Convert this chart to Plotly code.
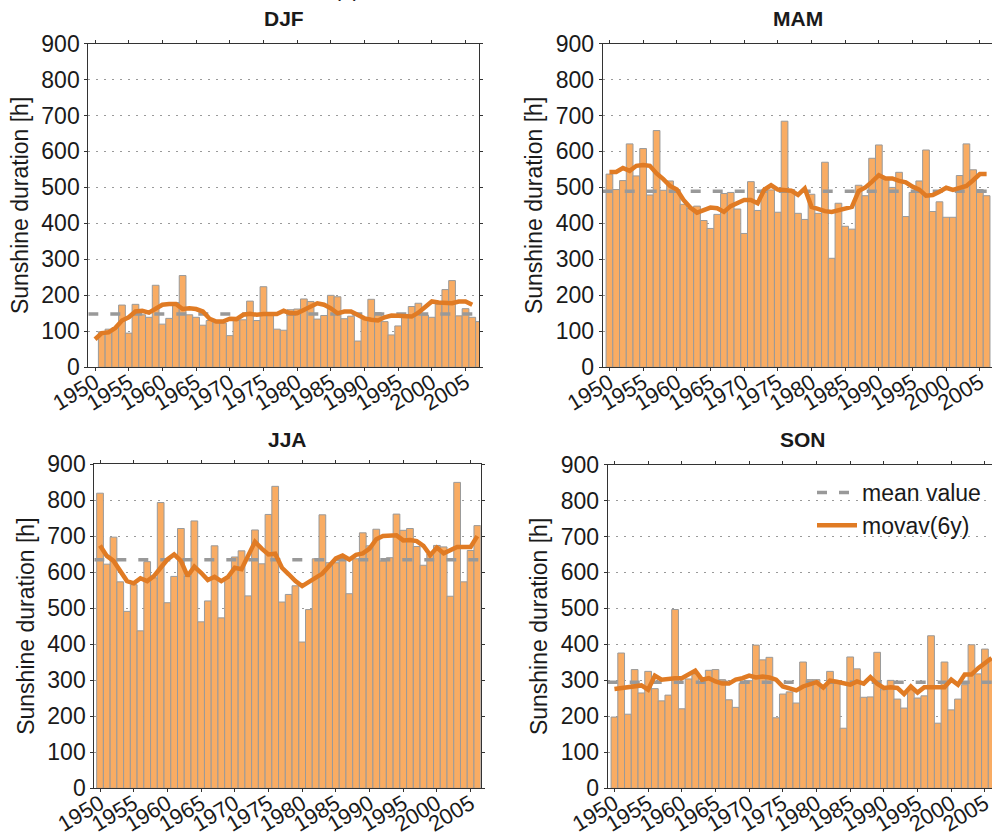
import plotly.graph_objects as go

# ---------------------------------------------------------------
# Seasonal sunshine duration 1950-2006 with 6-year moving average
# ---------------------------------------------------------------
years = list(range(1950, 2007))

djf_hours = [99, 106, 110, 173, 95, 175, 146, 139, 228, 120,
             136, 180, 255, 146, 139, 117, 130, 124, 123, 88,
             130, 132, 184, 130, 224, 146, 106, 103, 160, 162,
             190, 183, 134, 144, 200, 196, 135, 142, 73, 136,
             189, 152, 127, 90, 115, 141, 169, 178, 145, 139,
             175, 216, 241, 143, 163, 139, 127]
djf_movav = [78, 95, 97, 109, 130, 139, 155, 157, 152, 164,
             174, 176, 176, 162, 164, 162, 155, 135, 127, 127,
             135, 134, 146, 149, 146, 148, 148, 148, 157, 150,
             150, 160, 171, 178, 174, 164, 150, 155, 155, 146,
             136, 132, 130, 139, 144, 143, 141, 141, 152, 167,
             183, 180, 180, 178, 183, 183, 174]

mam_hours = [537, 494, 519, 621, 532, 608, 479, 658, 492, 518,
             494, 453, 441, 448, 408, 386, 425, 483, 486, 440,
             372, 516, 436, 493, 493, 431, 684, 494, 428, 411,
             481, 428, 570, 303, 456, 392, 384, 506, 477, 581,
             618, 522, 500, 542, 419, 486, 518, 604, 433, 460,
             417, 417, 533, 621, 549, 494, 477]
mam_movav = [543, 543, 554, 546, 560, 562, 560, 539, 523, 504,
             494, 465, 444, 430, 437, 444, 442, 432, 448, 457,
             465, 465, 456, 494, 506, 494, 493, 491, 479, 497,
             446, 440, 434, 432, 437, 444, 446, 490, 500, 516,
             534, 525, 525, 518, 514, 502, 494, 477, 479, 488,
             499, 493, 500, 504, 520, 537, 537]

jja_hours = [819, 622, 697, 573, 491, 565, 437, 629, 584, 793,
             515, 588, 721, 588, 742, 462, 520, 673, 473, 584,
             642, 659, 534, 717, 623, 760, 838, 517, 538, 562,
             406, 496, 637, 759, 626, 626, 635, 540, 637, 709,
             673, 719, 631, 640, 761, 716, 721, 671, 619, 650,
             674, 670, 533, 849, 573, 660, 729]
jja_movav = [674, 645, 631, 603, 575, 569, 583, 575, 589, 612,
             635, 649, 631, 589, 615, 598, 578, 587, 575, 587,
             612, 608, 645, 684, 665, 649, 651, 612, 594, 575,
             561, 572, 584, 596, 617, 638, 646, 635, 648, 652,
             665, 691, 700, 700, 702, 688, 689, 686, 673, 647,
             668, 652, 660, 670, 670, 670, 700]

son_hours = [198, 376, 206, 330, 265, 325, 277, 243, 259, 497,
             221, 304, 318, 292, 328, 330, 302, 246, 225, 292,
             299, 398, 357, 364, 196, 262, 268, 237, 351, 302,
             302, 279, 325, 297, 167, 365, 332, 253, 254, 378,
             274, 300, 248, 223, 274, 251, 257, 424, 181, 351,
             218, 248, 288, 399, 318, 387, 355]
son_movav = [276, 279, 281, 283, 286, 274, 313, 302, 305, 306,
             306, 316, 327, 302, 306, 297, 291, 291, 302, 306,
             313, 308, 311, 308, 302, 283, 279, 272, 283, 288,
             295, 280, 299, 296, 293, 288, 297, 291, 309, 291,
             279, 281, 279, 262, 283, 266, 281, 280, 279, 281,
             302, 288, 316, 316, 334, 348, 362]

season_names = ["DJF", "MAM", "JJA", "SON"]
mean_values = [148, 489, 634, 295]
y_ticks = list(range(0, 1000, 100))
x_ticks = list(range(1950, 2006, 5))

# ---------------------------------------------------------------
W, H = 992, 836
FONT = "Liberation Sans, Arial, Helvetica, sans-serif"
TXT = "#1a1a1a"
BAR_FILL = "#F9AC63"
BAR_EDGE = "#9a9a9a"
MEAN_COL = "#999999"
MOVAV_COL = "#E07B24"
TICK_SIZE = 23
XTICK_SIZE = 22

# panel boxes in pixels: (left, right, top, bottom), x-range, bar offset
panels = [
    dict(name=season_names[0], hours=djf_hours, movav=djf_movav, mean=mean_values[0],
         box=(88.3, 479.0, 43.5, 367.3), xr=(1949.0, 2007.0), off=0.5, right=True),
    dict(name=season_names[1], hours=mam_hours, movav=mam_movav, mean=mean_values[1],
         box=(602.7, 992.0, 43.5, 367.3), xr=(1949.0, 2006.8), off=-0.5, right=False),
    dict(name=season_names[2], hours=jja_hours, movav=jja_movav, mean=mean_values[2],
         box=(94.3, 480.7, 464.0, 788.3), xr=(1949.15, 2006.5), off=-0.5, right=True),
    dict(name=season_names[3], hours=son_hours, movav=son_movav, mean=mean_values[3],
         box=(607.7, 992.0, 464.5, 788.3), xr=(1949.0, 2006.05), off=-0.5, right=False),
]

fig = go.Figure()
annotations = []

for i, p in enumerate(panels):
    n = "" if i == 0 else str(i + 1)
    xa, ya = "x" + n, "y" + n
    l, r, t, b = p["box"]

    fig.add_trace(go.Bar(
        x=years, y=p["hours"], width=1.0, offset=p["off"],
        marker=dict(color=BAR_FILL, line=dict(color=BAR_EDGE, width=1)),
        xaxis=xa, yaxis=ya, showlegend=False, hoverinfo="x+y"))

    fig.add_trace(go.Scatter(
        x=list(p["xr"]), y=[p["mean"], p["mean"]], mode="lines",
        line=dict(color=MEAN_COL, width=3.5, dash="10px,12px"),
        xaxis=xa, yaxis=ya, name="mean value", showlegend=(i == 3),
        legendrank=1))

    fig.add_trace(go.Scatter(
        x=years, y=p["movav"], mode="lines",
        line=dict(color=MOVAV_COL, width=4.5),
        xaxis=xa, yaxis=ya, name="movav(6y)", showlegend=(i == 3),
        legendrank=2))

    fig.update_layout(**{
        ("xaxis" + n): dict(
            domain=[l / W, r / W], anchor=ya, range=list(p["xr"]),
            tickmode="array", tickvals=x_ticks,
            ticktext=[str(v) for v in x_ticks], tickangle=-31,
            ticks="outside", ticklen=3, tickcolor="#333",
            ticklabelstandoff=-10, ticklabeloverflow="allow",
            showline=True, linecolor="#333", linewidth=1, mirror="ticks",
            showgrid=False, zeroline=False, automargin=False,
            tickfont=dict(family=FONT, size=XTICK_SIZE, color=TXT)),
        ("yaxis" + n): dict(
            domain=[1 - b / H, 1 - t / H], anchor=xa, range=[0, 900],
            tickmode="array", tickvals=y_ticks,
            ticks="outside", ticklen=3, tickcolor="#333",
            showline=True, linecolor="#333", linewidth=1,
            mirror="ticks" if p["right"] else False,
            showgrid=True, gridcolor="#9a9a9a", gridwidth=1, griddash="2px,6px",
            zeroline=False, automargin=False,
            title=dict(text="Sunshine duration [h]", standoff=6,
                       font=dict(family=FONT, size=TICK_SIZE, color=TXT)),
            tickfont=dict(family=FONT, size=TICK_SIZE, color=TXT)),
    })

    annotations.append(dict(
        text="<b>%s</b>" % p["name"], xref="paper", yref="paper",
        x=((l + 391 / 2) if not p["right"] else (l + r) / 2) / W,
        y=1 - (t - 25) / H, xanchor="center", yanchor="middle",
        showarrow=False, font=dict(family=FONT, size=21, color=TXT)))

# figure label sitting above the top edge of the page
annotations.append(dict(
    text="(a)", xref="paper", yref="paper", x=346.5 / W, y=1 - 3 / H,
    xanchor="center", yanchor="bottom", showarrow=False,
    font=dict(family=FONT, size=21, color=TXT)))

fig.update_layout(
    width=W, height=H,
    margin=dict(l=0, r=0, t=0, b=0),
    paper_bgcolor="white", plot_bgcolor="white",
    barmode="overlay",
    annotations=annotations,
    legend=dict(x=812 / W, y=1 - 471 / H, xanchor="left", yanchor="top",
                bgcolor="rgba(0,0,0,0)", borderwidth=0,
                font=dict(family=FONT, size=TICK_SIZE, color=TXT),
                itemwidth=40, tracegroupgap=0),
    showlegend=True,
)

fig.write_html("out.html")
